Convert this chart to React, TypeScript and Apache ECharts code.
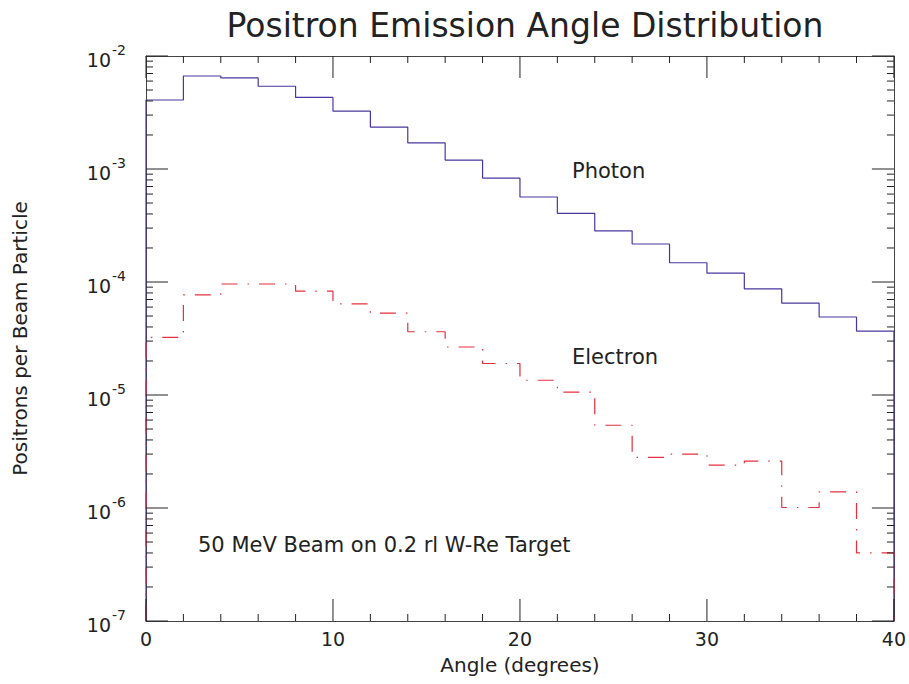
import React, { useEffect, useRef } from "react";
import * as echarts from "echarts";

const binEdges = [0, 2, 4, 6, 8, 10, 12, 14, 16, 18, 20, 22, 24, 26, 28, 30, 32, 34, 36, 38, 40];
const photonValues = [
  4.08e-3, 6.65e-3, 6.4e-3, 5.4e-3, 4.3e-3, 3.25e-3, 2.35e-3, 1.7e-3, 1.2e-3, 8.3e-4,
  5.65e-4, 4.05e-4, 2.83e-4, 2.17e-4, 1.48e-4, 1.2e-4, 8.7e-5, 6.5e-5, 4.9e-5, 3.68e-5,
];
const electronValues = [
  3.24e-5, 7.7e-5, 9.6e-5, 9.6e-5, 8.3e-5, 6.4e-5, 5.3e-5, 3.63e-5, 2.66e-5, 1.9e-5,
  1.35e-5, 1.06e-5, 5.4e-6, 2.8e-6, 3.0e-6, 2.4e-6, 2.6e-6, 1.01e-6, 1.39e-6, 4.0e-7,
];
const X_MIN = 0;
const X_MAX = 40;
const Y_MIN = 1e-7;
const Y_MAX = 1e-2;
const xMajorTicks = [0, 10, 20, 30, 40];
const xMinorTicks = [2, 4, 6, 8, 12, 14, 16, 18, 22, 24, 26, 28, 32, 34, 36, 38];
const yMajorExponents = [-7, -6, -5, -4, -3, -2];
const minorDecades = [-7, -6, -5, -4, -3];
const minorMultipliers = [2, 3, 4, 5, 6, 7, 8, 9];
const titleText = "Positron Emission Angle Distribution";
const xName = "Angle (degrees)";
const yName = "Positrons per Beam Particle";
const photonLabel = "Photon";
const electronLabel = "Electron";
const noteText = "50 MeV Beam on 0.2 rl W-Re Target";

const FONT = "DejaVu Sans";
const TEXT = "#222";
const TICK = "#222";
const W = 909;
const H = 684;
const GRID = { left: 146, right: 15, top: 56, bottom: 63 };
const MAJOR_LEN = 22;
const MINOR_LEN = 7;

function histPoints(vals: number[]) {
  const pts: number[][] = [[binEdges[0], Y_MIN]];
  vals.forEach((v, i) => {
    pts.push([binEdges[i], v]);
    pts.push([binEdges[i + 1], v]);
  });
  pts.push([binEdges[binEdges.length - 1], Y_MIN]);
  return pts;
}

// Tick segments expressed in axis units (pixel lengths converted through the grid size)
function tickSegments() {
  const gridW = W - GRID.left - GRID.right;
  const gridH = H - GRID.top - GRID.bottom;
  const xPerPx = (X_MAX - X_MIN) / gridW;
  const decadesPerPx = Math.log10(Y_MAX / Y_MIN) / gridH;
  const segs: any[] = [];
  const gap = ["-", "-"];
  const addX = (x: number, len: number) => {
    const f = Math.pow(10, len * decadesPerPx);
    segs.push([x, Y_MIN], [x, Y_MIN * f], gap);
    segs.push([x, Y_MAX / f], [x, Y_MAX], gap);
  };
  const addY = (y: number, len: number) => {
    const dx = len * xPerPx;
    segs.push([X_MIN, y], [X_MIN + dx, y], gap);
    segs.push([X_MAX - dx, y], [X_MAX, y], gap);
  };
  xMajorTicks.forEach((x) => addX(x, MAJOR_LEN));
  xMinorTicks.forEach((x) => addX(x, MINOR_LEN));
  yMajorExponents.forEach((e) => addY(Math.pow(10, e), MAJOR_LEN));
  minorDecades.forEach((e) => minorMultipliers.forEach((k) => addY(k * Math.pow(10, e), MINOR_LEN)));
  return segs;
}

export default function App() {
  const ref = useRef<HTMLDivElement>(null);
  useEffect(() => {
    document.body.style.margin = "0";
    const chart = echarts.init(ref.current!, null, { renderer: "svg" });
    const yLabelFmt = (v: number) => `{b|10}{s|${Math.round(Math.log10(v))}}`;
    const axisLine = { show: true, onZero: false, lineStyle: { color: "#444", width: 1 } };
    const option: any = {
      animation: false,
      backgroundColor: "#ffffff",
      title: {
        text: titleText,
        left: 520,
        textAlign: "center",
        top: 4,
        textStyle: { fontFamily: FONT, fontSize: 33, fontWeight: "normal", color: TEXT },
      },
      grid: { ...GRID },
      xAxis: [
        {
          type: "value",
          min: X_MIN,
          max: X_MAX,
          interval: 10,
          position: "bottom",
          name: xName,
          nameLocation: "middle",
          nameGap: 34,
          nameTextStyle: { fontFamily: FONT, fontSize: 20, color: TEXT },
          axisLine,
          axisTick: { show: false },
          splitLine: { show: false },
          axisLabel: { fontFamily: FONT, fontSize: 19, color: TEXT, margin: 8 },
        },
        {
          type: "value",
          min: X_MIN,
          max: X_MAX,
          interval: 10,
          position: "top",
          axisLine,
          axisTick: { show: false },
          splitLine: { show: false },
          axisLabel: { show: false },
        },
      ],
      yAxis: [
        {
          type: "log",
          logBase: 10,
          min: Y_MIN,
          max: Y_MAX,
          position: "left",
          name: yName,
          nameLocation: "middle",
          nameGap: 116,
          nameRotate: 90,
          nameTextStyle: { fontFamily: FONT, fontSize: 20, color: TEXT },
          axisLine,
          axisTick: { show: false },
          splitLine: { show: false },
          axisLabel: {
            formatter: yLabelFmt,
            margin: 20,
            rich: {
              b: { fontFamily: FONT, fontSize: 19, color: TEXT, verticalAlign: "bottom", padding: [8, 0, 0, 0] },
              s: { fontFamily: FONT, fontSize: 14, color: TEXT, verticalAlign: "top", padding: [0, 0, 10, 1] },
            },
          },
        },
        {
          type: "log",
          logBase: 10,
          min: Y_MIN,
          max: Y_MAX,
          position: "right",
          axisLine,
          axisTick: { show: false },
          splitLine: { show: false },
          axisLabel: { show: false },
        },
      ],
      series: [
        {
          type: "line",
          name: "ticks",
          data: tickSegments(),
          showSymbol: false,
          connectNulls: false,
          silent: true,
          clip: false,
          lineStyle: { color: TICK, width: 1, type: "solid" },
          itemStyle: { color: TICK },
          z: 4,
        },
        {
          type: "line",
          name: "Photon",
          data: histPoints(photonValues),
          showSymbol: false,
          lineStyle: { color: "#4a36a0", width: 1.2, type: "solid" },
          itemStyle: { color: "#4a36a0" },
          z: 3,
        },
        {
          type: "line",
          name: "Electron",
          data: histPoints(electronValues),
          showSymbol: false,
          lineStyle: { color: "#e5303c", width: 1.2, type: [16, 10, 1.5, 10] },
          itemStyle: { color: "#e5303c" },
          z: 3,
        },
      ],
      graphic: [
        { type: "text", left: 572, top: 160, style: { text: photonLabel, font: `21px "${FONT}"`, fill: TEXT } },
        { type: "text", left: 572, top: 346, style: { text: electronLabel, font: `21px "${FONT}"`, fill: TEXT } },
        { type: "text", left: 198, top: 534, style: { text: noteText, font: `21px "${FONT}"`, fill: TEXT } },
      ],
    };
    chart.setOption(option);
    return () => chart.dispose();
  }, []);
  return <div ref={ref} style={{ position: "absolute", left: 0, top: 0, width: W, height: H }} />;
}
